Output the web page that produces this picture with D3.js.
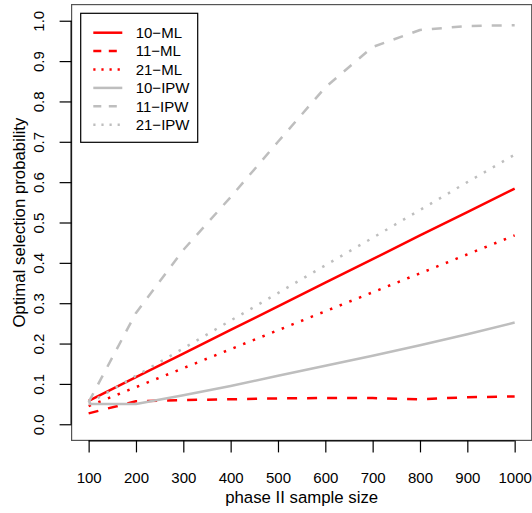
<!DOCTYPE html>
<html>
<head>
<meta charset="utf-8">
<script src="https://cdn.jsdelivr.net/npm/d3@7"></script>
<style>
  html, body { margin: 0; padding: 0; background: #fff; }
  svg { display: block; }
  text { font-family: "Liberation Sans", Arial, Helvetica, sans-serif; fill: #000; }
</style>
</head>
<body>
<svg id="chart" width="532" height="513"></svg>
<script>
// ---- data ----
const sampleSizes = [100, 200, 300, 400, 500, 600, 700, 800, 900, 1000];
const ml10  = [0.058, 0.117, 0.175, 0.234, 0.292, 0.351, 0.409, 0.468, 0.526, 0.584];
const ml11  = [0.027, 0.057, 0.060, 0.062, 0.064, 0.065, 0.065, 0.062, 0.067, 0.069];
const ml21  = [0.045, 0.092, 0.139, 0.186, 0.233, 0.280, 0.327, 0.374, 0.421, 0.468];
const ipw10 = [0.050, 0.050, 0.072, 0.095, 0.120, 0.145, 0.170, 0.196, 0.223, 0.252];
const ipw11 = [0.055, 0.276, 0.432, 0.563, 0.700, 0.835, 0.935, 0.977, 0.987, 0.989];
const ipw21 = [0.052, 0.120, 0.188, 0.257, 0.325, 0.394, 0.462, 0.531, 0.600, 0.668];
const seriesNames = ["10\u2212ML", "11\u2212ML", "21\u2212ML", "10\u2212IPW", "11\u2212IPW", "21\u2212IPW"];
const xTicks = [100, 200, 300, 400, 500, 600, 700, 800, 900, 1000];
const yTicks = [0, 0.1, 0.2, 0.3, 0.4, 0.5, 0.6, 0.7, 0.8, 0.9, 1.0];
const xTitle = "phase II sample size";
const yTitle = "Optimal selection probability";

// ---- styles ----
const RED = "#FF0000", GRAY = "#BEBEBE";
const styles = [
  {color: RED,  dash: null,       ldash: null},
  {color: RED,  dash: "10,10",    ldash: "8,7.5"},
  {color: RED,  dash: "2.5,7.9",  ldash: "2.2,5.9"},
  {color: GRAY, dash: null,       ldash: null},
  {color: GRAY, dash: "10,10",    ldash: "8,7.5"},
  {color: GRAY, dash: "2.5,7.9",  ldash: "2.2,5.9"}
];
const seriesValues = [ml10, ml11, ml21, ipw10, ipw11, ipw21];

const svg = d3.select("#chart");
const L = 71.6, R = 531.7, T = 4.6, B = 440.4;
const x = d3.scaleLinear().domain([64, 1036]).range([L, R]);
const y = d3.scaleLinear().domain([-0.04, 1.04]).range([B, T]);

// series lines
const line = d3.line().x(d => x(d[0])).y(d => y(d[1]));
seriesValues.forEach((vals, i) => {
  const pts = sampleSizes.map((s, j) => [s, vals[j]]);
  svg.append("path")
    .attr("d", line(pts))
    .attr("fill", "none")
    .attr("stroke", styles[i].color)
    .attr("stroke-width", 2.5)
    .attr("stroke-linejoin", "round")
    .attr("stroke-linecap", "butt")
    .attr("stroke-dasharray", styles[i].dash);
});

// box
svg.append("rect")
  .attr("x", L).attr("y", T).attr("width", R - L).attr("height", B - T)
  .attr("fill", "none").attr("stroke", "#555").attr("stroke-width", 1.2);

// x axis
const xAxis = d3.axisBottom(x).tickValues(xTicks).tickSize(12).tickPadding(20).tickFormat(d3.format("d"));
const gx = svg.append("g").attr("transform", `translate(0,${B})`).call(xAxis);
gx.select(".domain").attr("d", `M${x(100)},0.5H${x(1000)}`).attr("stroke", "#000").attr("stroke-width", 1.2);
gx.selectAll(".tick line").attr("stroke", "#000").attr("stroke-width", 1.2);
gx.selectAll(".tick text").attr("font-size", 15).attr("font-family", "Liberation Sans, Arial, sans-serif").attr("fill", "#000");

// y axis
const yAxis = d3.axisLeft(y).tickValues(yTicks).tickSize(12).tickPadding(0).tickFormat(d3.format(".1f"));
const gy = svg.append("g").attr("transform", `translate(${L},0)`).call(yAxis);
gy.select(".domain").attr("d", `M-0.5,${y(0)}V${y(1)}`).attr("stroke", "#000").attr("stroke-width", 1.2);
gy.selectAll(".tick line").attr("stroke", "#000").attr("stroke-width", 1.2);
gy.selectAll(".tick text")
  .attr("font-size", 15).attr("font-family", "Liberation Sans, Arial, sans-serif").attr("fill", "#000")
  .attr("x", null).attr("dy", null)
  .attr("text-anchor", "middle")
  .attr("transform", `translate(${44 - L},0) rotate(-90)`);

// axis titles
svg.append("text").attr("x", (x(100) + x(1000)) / 2).attr("y", 503)
  .attr("text-anchor", "middle").attr("font-size", 16.8).text(xTitle);
svg.append("text").attr("transform", `translate(25,${(y(0) + y(1)) / 2}) rotate(-90)`)
  .attr("text-anchor", "middle").attr("font-size", 16.8).text(yTitle);

// legend
const lg = svg.append("g");
lg.append("rect").attr("x", 80.7).attr("y", 13.3).attr("width", 117).attr("height", 129)
  .attr("fill", "#fff").attr("stroke", "#000").attr("stroke-width", 1.2);
const rowY = d3.scaleLinear().domain([0, 5]).range([32.7, 124.7]);
seriesNames.forEach((name, i) => {
  const yy = rowY(i);
  lg.append("line").attr("x1", 93.3).attr("x2", 122.3).attr("y1", yy).attr("y2", yy)
    .attr("stroke", styles[i].color).attr("stroke-width", 2.5)
    .attr("stroke-dasharray", styles[i].ldash);
  lg.append("text").attr("x", 135.7).attr("y", yy + 5.3).attr("font-size", 15).text(name);
});
</script>
</body>
</html>
